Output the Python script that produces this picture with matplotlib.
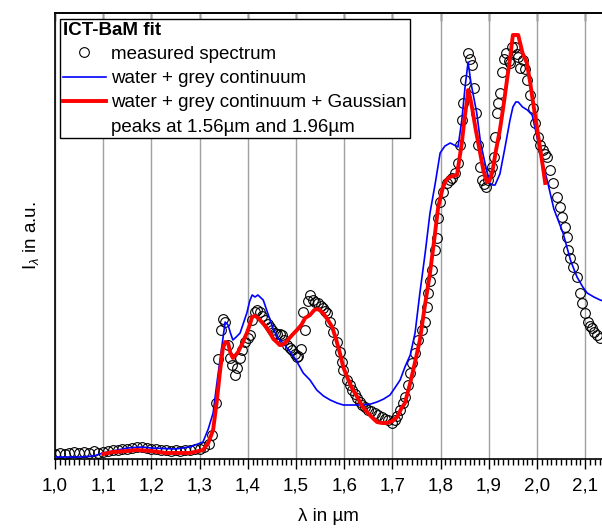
import matplotlib
matplotlib.use("Agg")
import matplotlib.pyplot as plt
from matplotlib.lines import Line2D
from matplotlib.ticker import FuncFormatter, MultipleLocator
import numpy as np

plt.rcParams['font.family'] = ['Liberation Sans', 'DejaVu Sans']
plt.rcParams['mathtext.fontset'] = 'custom'
plt.rcParams['mathtext.rm'] = 'Liberation Sans'
plt.rcParams['mathtext.it'] = 'Liberation Sans:italic'

# measured spectrum (wavelength in µm, intensity in a.u.)
lam_meas = [1.00, 1.01, 1.02, 1.03, 1.04, 1.05, 1.06, 1.07, 1.08, 1.09,
            1.10, 1.11, 1.12, 1.13, 1.14, 1.15, 1.16, 1.17, 1.18, 1.19,
            1.20, 1.21, 1.22, 1.23, 1.24, 1.25, 1.26, 1.27, 1.28, 1.29,
            1.30, 1.31, 1.32, 1.326, 1.334, 1.338, 1.344, 1.349, 1.352, 1.358,
            1.363, 1.367, 1.373, 1.378, 1.384, 1.389, 1.394, 1.400, 1.405, 1.408,
            1.415, 1.420, 1.425, 1.430, 1.436, 1.441, 1.446, 1.451, 1.456, 1.461,
            1.466, 1.471, 1.476, 1.481, 1.487, 1.492, 1.497, 1.502, 1.505, 1.510,
            1.514, 1.519, 1.524, 1.529, 1.535, 1.540, 1.546, 1.551, 1.556, 1.561,
            1.564, 1.571, 1.577, 1.585, 1.591, 1.595, 1.598, 1.606, 1.611, 1.616,
            1.622, 1.627, 1.632, 1.637, 1.643, 1.649, 1.656, 1.664, 1.671, 1.678,
            1.685, 1.691, 1.699, 1.705, 1.710, 1.716, 1.721, 1.726, 1.732, 1.737,
            1.741, 1.747, 1.753, 1.761, 1.768, 1.772, 1.774, 1.778, 1.782, 1.788,
            1.792, 1.795, 1.799, 1.805, 1.813, 1.819, 1.824, 1.830, 1.836, 1.840,
            1.844, 1.847, 1.851, 1.857, 1.861, 1.865, 1.869, 1.873, 1.878, 1.882,
            1.886, 1.890, 1.894, 1.898, 1.903, 1.907, 1.911, 1.913, 1.917, 1.919,
            1.923, 1.927, 1.932, 1.936, 1.941, 1.944, 1.948, 1.954, 1.958, 1.961,
            1.965, 1.971, 1.975, 1.979, 1.985, 1.992, 1.996, 2.002, 2.007, 2.012,
            2.017, 2.021, 2.027, 2.033, 2.041, 2.048, 2.052, 2.058, 2.062, 2.064,
            2.068, 2.075, 2.083, 2.089, 2.093, 2.100, 2.106, 2.110, 2.114, 2.119,
            2.124, 2.131]
I_meas = [5, 6, 5, 6, 7, 6, 7, 6, 8, 6,
          7, 8, 9, 9, 10, 10, 11, 12, 12, 11,
          10, 10, 9, 9, 8, 9, 8, 9, 9, 10,
          10, 12, 15, 24, 56, 100, 129, 140, 137, 114,
          101, 94, 84, 91, 101, 109, 117, 121, 124, 139,
          147, 149, 147, 143, 139, 135, 132, 129, 126, 125,
          125, 124, 119, 114, 111, 109, 105, 102, 103, 110,
          147, 129, 158, 164, 159, 157, 156, 153, 151, 148,
          146, 137, 127, 117, 107, 97, 89, 79, 74, 69,
          65, 61, 57, 54, 52, 49, 48, 46, 44, 42,
          40, 39, 36, 39, 43, 49, 56, 62, 74, 86,
          96, 106, 119, 129, 137, 152, 166, 178, 189, 209,
          221, 241, 257, 267, 276, 279, 281, 286, 296, 314,
          339, 356, 379, 406, 400, 394, 371, 346, 314, 292,
          279, 275, 272, 279, 286, 292, 302, 322, 346, 356,
          366, 387, 400, 406, 398, 396, 412, 412, 405, 402,
          391, 399, 390, 379, 364, 351, 336, 322, 314, 309,
          305, 302, 289, 276, 262, 252, 242, 232, 222, 209,
          201, 192, 182, 166, 156, 146, 137, 133, 131, 127,
          124, 121]

# water + grey continuum
lam_water = [1.00, 1.05, 1.08, 1.10, 1.12, 1.15, 1.18, 1.20, 1.25, 1.28,
             1.307, 1.318, 1.328, 1.337, 1.346, 1.353, 1.359, 1.364, 1.369, 1.376,
             1.384, 1.391, 1.398, 1.404, 1.409, 1.415, 1.421, 1.432, 1.442, 1.452,
             1.462, 1.473, 1.488, 1.500, 1.515, 1.529, 1.543, 1.557, 1.571, 1.585,
             1.598, 1.620, 1.639, 1.655, 1.668, 1.682, 1.695, 1.705, 1.716, 1.726,
             1.737, 1.747, 1.757, 1.768, 1.778, 1.789, 1.799, 1.809, 1.820, 1.828,
             1.836, 1.840, 1.844, 1.851, 1.857, 1.863, 1.869, 1.875, 1.883, 1.892,
             1.902, 1.907, 1.913, 1.923, 1.933, 1.944, 1.950, 1.956, 1.961, 1.970,
             1.980, 1.990, 2.000, 2.010, 2.021, 2.035, 2.054, 2.070, 2.083, 2.095,
             2.104, 2.118, 2.131, 2.137]
I_water = [2, 2, 3, 6, 8, 11, 12, 11, 10, 12,
           17, 30, 46, 80, 112, 137, 134, 126, 119, 122,
           126, 136, 146, 158, 164, 162, 164, 159, 145, 131,
           121, 116, 107, 99, 86, 79, 69, 63, 59, 56,
           54, 54, 54, 55, 57, 60, 64, 71, 79, 92,
           104, 126, 166, 206, 246, 276, 306, 313, 316, 314,
           312, 325, 339, 373, 397, 376, 361, 346, 316, 296,
           276, 274, 274, 285, 310, 339, 352, 357, 357, 352,
           349, 344, 322, 299, 279, 250, 226, 198, 182, 172,
           166, 162, 159, 158]

# water + grey continuum + Gaussian peaks
lam_fit = [1.10, 1.12, 1.15, 1.17, 1.20, 1.23, 1.25, 1.28, 1.307, 1.318,
           1.328, 1.335, 1.342, 1.348, 1.353, 1.359, 1.364, 1.369, 1.375, 1.380,
           1.389, 1.398, 1.404, 1.409, 1.414, 1.419, 1.429, 1.438, 1.446, 1.453,
           1.460, 1.466, 1.471, 1.477, 1.483, 1.492, 1.502, 1.511, 1.519, 1.529,
           1.538, 1.543, 1.549, 1.556, 1.565, 1.575, 1.583, 1.591, 1.598, 1.606,
           1.616, 1.627, 1.637, 1.647, 1.657, 1.668, 1.678, 1.689, 1.700, 1.710,
           1.718, 1.726, 1.737, 1.747, 1.757, 1.767, 1.778, 1.787, 1.795, 1.805,
           1.812, 1.819, 1.826, 1.834, 1.839, 1.844, 1.850, 1.855, 1.857, 1.861,
           1.865, 1.873, 1.882, 1.889, 1.896, 1.901, 1.907, 1.915, 1.923, 1.931,
           1.938, 1.944, 1.950, 1.961, 1.970, 1.979, 1.986, 1.992, 1.999, 2.006,
           2.012, 2.017]
I_fit = [5, 7, 8, 9, 8, 6, 6, 6, 9, 16,
         29, 55, 86, 110, 117, 116, 106, 101, 104, 107,
         116, 126, 134, 142, 143, 142, 137, 132, 126, 120,
         117, 114, 114, 116, 119, 124, 129, 134, 141, 144,
         149, 150, 149, 146, 140, 132, 120, 106, 92, 82,
         71, 62, 53, 47, 42, 37, 36, 36, 38, 42,
         50, 56, 76, 97, 119, 152, 186, 220, 252, 272,
         279, 282, 283, 284, 300, 316, 342, 359, 369, 362,
         352, 329, 306, 288, 277, 278, 286, 309, 329, 355,
         380, 400, 424, 424, 406, 396, 376, 356, 334, 312,
         293, 276]

xticks = [1.0, 1.1, 1.2, 1.3, 1.4, 1.5, 1.6, 1.7, 1.8, 1.9, 2.0, 2.1]

fig = plt.figure(figsize=(6.02, 5.30), dpi=100)
ax = fig.add_axes([55 / 602, 71 / 530, 547 / 602, 446 / 530])

ax.plot(lam_meas, I_meas, 'o', ms=7, mfc='none', mec='black', mew=0.8,
        zorder=3)
ax.plot(lam_water, I_water, color='#0000ff', lw=1.2, zorder=4)
ax.plot(lam_fit, I_fit, color='#ff0000', lw=2.8, zorder=5)

ax.set_xlim(1.0, 1.0 + 547 / 482)
ax.set_ylim(0, 446)
ax.set_xticks(xticks)
ax.xaxis.set_minor_locator(MultipleLocator(0.01))
ax.xaxis.set_major_formatter(FuncFormatter(lambda v, p: f"{v:.1f}".replace('.', ',')))
ax.tick_params(axis='x', which='major', direction='out', length=7, width=1,
               labelsize=13.5, pad=6)
ax.tick_params(axis='x', which='minor', direction='out', length=4, width=1)
ax.set_yticks([])
ax.grid(axis='x', color='#a0a0a0', lw=1.0, zorder=0)
ax.set_axisbelow(True)
ax.spines['right'].set_visible(False)
for s in ['left', 'bottom', 'top']:
    ax.spines[s].set_linewidth(1.2)

top = ax.secondary_xaxis('top')
top.set_xticks(xticks)
top.tick_params(direction='in', length=6, width=1, labeltop=False)
top.spines['top'].set_linewidth(1.2)

ax.set_xlabel('λ in µm', fontsize=13.5, labelpad=10)
ax.set_ylabel(r'I$_\lambda$ in a.u.', fontsize=13.5, labelpad=10)

handles = [
    Line2D([], [], ls='none', marker='o', ms=7, mfc='none', mec='black', mew=0.8),
    Line2D([], [], color='#0000ff', lw=1.2),
    Line2D([], [], color='#ff0000', lw=2.8),
    Line2D([], [], ls='none'),
]
labels = ['measured spectrum', 'water + grey continuum',
          'water + grey continuum + Gaussian', 'peaks at 1.56µm and 1.96µm']
leg = ax.legend(handles, labels, loc='upper left', bbox_to_anchor=(0.009, 0.987),
                borderaxespad=0, fontsize=13.5, title='ICT-BaM fit',
                title_fontproperties={'weight': 'bold', 'size': 13.5},
                alignment='left', frameon=True, fancybox=False, edgecolor='black',
                framealpha=1, handlelength=2.3, handletextpad=0.3,
                labelspacing=0.38, borderpad=0.15)
leg.get_frame().set_linewidth(1.0)

fig.savefig('out.png', dpi=100)
